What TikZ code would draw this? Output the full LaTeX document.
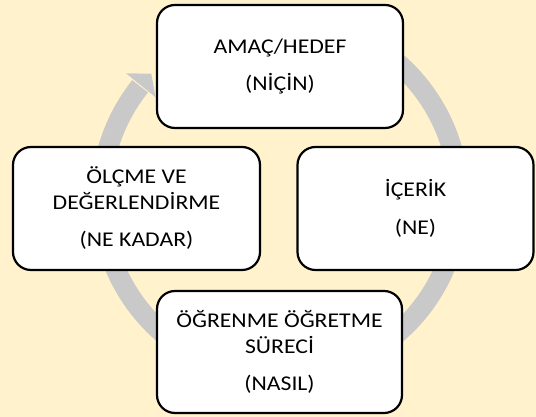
\documentclass[tikz,border=0pt]{standalone}
\usepackage{fontspec}
\setmainfont{Carlito}[FakeStretch=1.13]
\definecolor{bgc}{HTML}{FFF2CC}
\definecolor{ringc}{HTML}{C9C9C9}
\begin{document}
\begin{tikzpicture}[x=1pt,y=1pt,
  cyclebox/.style={draw=black, line width=2.2pt, fill=white, rounded corners=18pt,
    inner sep=0pt, align=center, font=\fontsize{21}{25.5}\selectfont},
]
\useasboundingbox[fill=bgc] (0,0) rectangle (536,417);
% circular arrow
\begin{scope}[shift={(280,219)}]
  \draw[ringc, line width=20pt] (75:179pt) arc[start angle=75, end angle=-218.6, radius=179pt];
  \fill[ringc] (141:198pt) -- (136:179pt) -- (141:160pt) -- cycle;
\end{scope}
\node[cyclebox, minimum width=246pt, minimum height=123pt] (amac) at (280,350.5)
  {AMAÇ/HEDEF\\[12pt](NİÇİN)};
\node[cyclebox, minimum width=236pt, minimum height=123pt] (icerik) at (415.5,208.5)
  {İÇERİK\\[12pt](NE)};
\node[cyclebox, minimum width=245pt, minimum height=122pt] (surec) at (279.5,65)
  {ÖĞRENME ÖĞRETME\\SÜRECİ\\[12pt](NASIL)};
\node[cyclebox, minimum width=247pt, minimum height=123pt] (olcme) at (136.5,208.5)
  {ÖLÇME VE\\DEĞERLENDİRME\\[12pt](NE KADAR)};
\end{tikzpicture}
\end{document}
